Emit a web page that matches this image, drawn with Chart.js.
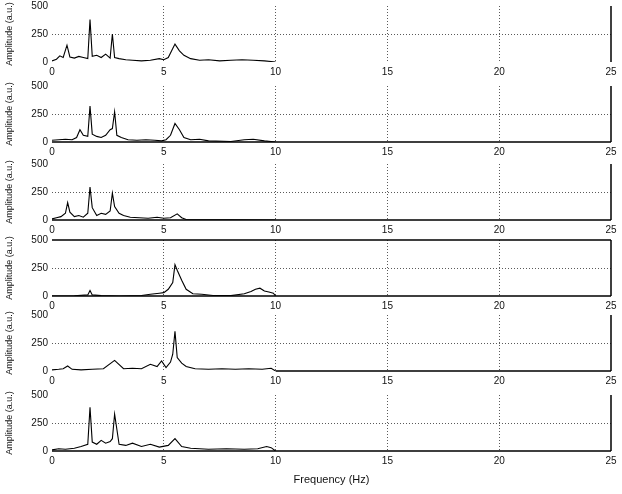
<!DOCTYPE html>
<html>
<head>
<meta charset="utf-8">
<script src="https://cdn.jsdelivr.net/npm/chart.js"></script>
<style>
  body { margin: 0; background: #fff; }
  #wrap { position: relative; width: 622px; height: 494px; overflow: hidden; }
  #wrap canvas { position: absolute; left: 0; }
</style>
</head>
<body>
<div id="wrap"></div>
<script>
// tick labels
const xTicks = [0, 5, 10, 15, 20, 25];
const yTicks = [0, 250, 500];

// spectra, one per panel (Hz / amplitude)
const freq1 = [0, 0.2, 0.35, 0.5, 0.67, 0.8, 1.0, 1.2, 1.4, 1.6, 1.7, 1.8, 2.0, 2.2, 2.4, 2.6, 2.7, 2.8, 3.0, 3.3, 3.6, 4.0, 4.4, 4.8, 5.0, 5.2, 5.4, 5.5, 5.7, 5.9, 6.2, 6.6, 7.0, 7.5, 8.0, 8.5, 9.0, 9.5, 10];
const amp1  = [10, 25, 55, 40, 150, 45, 35, 50, 40, 30, 380, 50, 60, 40, 70, 35, 250, 40, 30, 20, 15, 10, 15, 30, 20, 40, 120, 160, 100, 60, 30, 15, 20, 10, 15, 20, 15, 10, 0];

const freq2 = [0, 0.3, 0.6, 0.9, 1.1, 1.25, 1.4, 1.6, 1.7, 1.8, 2.0, 2.2, 2.4, 2.6, 2.7, 2.8, 2.9, 3.1, 3.4, 3.8, 4.2, 4.6, 4.9, 5.1, 5.3, 5.5, 5.7, 5.9, 6.2, 6.6, 7.0, 8.0, 8.6, 9.0, 9.5, 10];
const amp2  = [15, 20, 25, 20, 40, 110, 60, 50, 320, 70, 50, 40, 60, 110, 120, 270, 60, 40, 20, 15, 20, 15, 10, 20, 60, 165, 110, 40, 20, 25, 10, 5, 20, 25, 10, 0];

const freq3 = [0, 0.2, 0.4, 0.6, 0.7, 0.8, 1.0, 1.2, 1.4, 1.6, 1.7, 1.8, 2.0, 2.2, 2.4, 2.6, 2.7, 2.8, 3.0, 3.2, 3.5, 3.9, 4.3, 4.7, 5.0, 5.3, 5.6, 5.8, 6.0, 10];
const amp3  = [10, 20, 30, 60, 155, 70, 30, 40, 25, 60, 295, 110, 40, 60, 50, 80, 240, 120, 60, 40, 25, 20, 15, 25, 15, 20, 55, 20, 5, 0];

const freq4 = [0, 1.0, 1.6, 1.7, 1.8, 2.2, 3.0, 4.0, 4.4, 4.8, 5.0, 5.2, 5.4, 5.5, 5.6, 5.8, 6.0, 6.3, 6.7, 7.2, 8.0, 8.6, 8.9, 9.1, 9.3, 9.5, 9.7, 9.9, 10];
const amp4  = [0, 2, 10, 50, 10, 3, 0, 5, 15, 25, 30, 60, 120, 280, 230, 140, 60, 20, 15, 5, 3, 20, 40, 60, 70, 45, 35, 25, 0];

const freq5 = [0, 0.3, 0.5, 0.7, 0.9, 1.3, 1.8, 2.3, 2.8, 3.2, 3.6, 4.0, 4.4, 4.7, 4.9, 5.1, 5.3, 5.4, 5.5, 5.6, 5.8, 6.0, 6.4, 7.0, 7.6, 8.2, 8.8, 9.4, 9.8, 10];
const amp5  = [10, 15, 20, 45, 15, 10, 15, 20, 95, 20, 25, 20, 60, 40, 90, 30, 80, 150, 355, 120, 70, 40, 20, 15, 20, 15, 20, 15, 25, 0];

const freq6 = [0, 0.3, 0.6, 1.0, 1.3, 1.6, 1.7, 1.8, 2.0, 2.2, 2.4, 2.6, 2.7, 2.8, 3.0, 3.3, 3.6, 4.0, 4.4, 4.8, 5.2, 5.5, 5.8, 6.2, 7.0, 7.8, 8.6, 9.2, 9.6, 9.8, 10];
const amp6  = [10, 20, 15, 25, 40, 60, 390, 80, 60, 95, 70, 85, 110, 330, 60, 50, 70, 40, 60, 35, 50, 110, 40, 25, 15, 20, 15, 20, 40, 30, 0];

const yLabel = 'Amplitude (a.u.)';
const xLabel = 'Frequency (Hz)';

const series = [[freq1, amp1], [freq2, amp2], [freq3, amp3], [freq4, amp4], [freq5, amp5], [freq6, amp6]];

// layout / look of each panel
const plotTops = [6, 86, 164, 240, 315, 395];
const plotH = 58;
const padTop = 8;
const bottomFrom = [null, 0, 0, 0, 10, 0];
const topEdge = [false, false, false, true, false, false];
const FONT = 'Liberation Sans, Arial, sans-serif';

// box lines drawn on top like matlab axes
const axisLines = {
  id: 'axisLines',
  afterDraw(chart, args, opts) {
    const {ctx, chartArea, scales} = chart;
    ctx.save();
    ctx.strokeStyle = '#000';
    ctx.lineWidth = 1.5;
    ctx.beginPath();
    ctx.moveTo(chartArea.right, chartArea.top);
    ctx.lineTo(chartArea.right, chartArea.bottom);
    if (opts.from !== null) {
      ctx.moveTo(scales.x.getPixelForValue(opts.from), chartArea.bottom);
      ctx.lineTo(chartArea.right, chartArea.bottom);
    }
    if (opts.top) {
      ctx.moveTo(chartArea.left, chartArea.top);
      ctx.lineTo(chartArea.right, chartArea.top);
    }
    ctx.stroke();
    ctx.restore();
  }
};

const wrap = document.getElementById('wrap');

series.forEach((s, i) => {
  const last = i === series.length - 1;
  const xh = last ? 36 : 16;
  const cv = document.createElement('canvas');
  cv.width = 622;
  cv.height = padTop + plotH + xh;
  wrap.appendChild(cv);

  const pts = s[0].map((f, k) => ({x: f, y: s[1][k]}));

  const chart = new Chart(cv, {
    type: 'line',
    data: {
      datasets: [{
        data: pts,
        borderColor: '#000',
        borderWidth: 1.1,
        pointRadius: 0,
        tension: 0,
        fill: false
      }]
    },
    options: {
      responsive: false,
      animation: false,
      events: [],
      layout: {padding: {top: padTop, right: 11, left: 0, bottom: 0}},
      plugins: {
        legend: {display: false},
        tooltip: {enabled: false},
        axisLines: {from: bottomFrom[i], top: topEdge[i]}
      },
      scales: {
        x: {
          type: 'linear',
          min: xTicks[0],
          max: xTicks[xTicks.length - 1],
          afterBuildTicks: sc => { sc.ticks = xTicks.map(v => ({value: v})); },
          afterFit: sc => { sc.height = xh; },
          grid: {
            drawTicks: false,
            lineWidth: 1,
            color: c => (c.tick && (c.tick.value === 0 || c.tick.value === 25)) ? 'rgba(0,0,0,0)' : '#5a5a5a'
          },
          border: {display: false, dash: [1, 2]},
          ticks: {padding: 4, color: '#111', font: {family: FONT, size: 10}, maxRotation: 0},
          title: {
            display: last,
            text: xLabel,
            color: '#111',
            font: {family: FONT, size: 11},
            padding: {top: 4, bottom: 0}
          }
        },
        y: {
          min: yTicks[0],
          max: yTicks[yTicks.length - 1],
          afterBuildTicks: sc => { sc.ticks = yTicks.map(v => ({value: v})); },
          afterFit: sc => { sc.width = 52; },
          grid: {
            drawTicks: false,
            lineWidth: 1,
            color: c => (c.tick && c.tick.value === 250) ? '#5a5a5a' : 'rgba(0,0,0,0)'
          },
          border: {display: false, dash: [1, 2]},
          ticks: {padding: 4, color: '#111', font: {family: FONT, size: 10}},
          title: {
            display: true,
            text: yLabel,
            color: '#111',
            font: {family: FONT, size: 9},
            padding: {top: 4, bottom: 0}
          }
        }
      }
    },
    plugins: [axisLines]
  });

  cv.style.top = (plotTops[i] - chart.chartArea.top) + 'px';
});
</script>
</body>
</html>
